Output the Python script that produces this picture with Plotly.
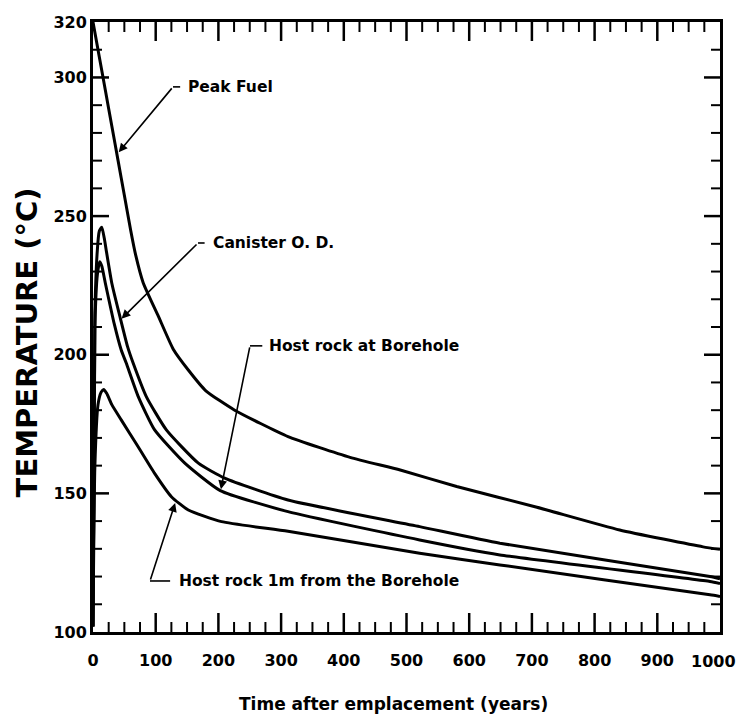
import plotly.graph_objects as go

# ---- data ----
peak_x = [0, 10, 20, 30, 40, 50, 60, 68, 80, 104, 128, 152, 180, 226, 311, 410, 490, 580, 708, 840, 973, 1000]
peak_y = [320, 307.5, 295, 282.5, 270, 257.5, 245, 236, 226, 214, 202, 194.5, 187, 180, 170.5, 163, 158.4, 152.5, 145, 136.8, 130.7, 129.8]

can_x = [0, 3, 7, 10, 14, 18, 21, 30, 43, 55, 64, 85, 117, 168, 210, 311, 521, 649, 984, 1000]
can_y = [102, 215, 238, 244.5, 246, 242, 237.8, 225.8, 213.7, 203, 197, 184.9, 172.9, 160.9, 155.5, 147.6, 138, 132, 120, 119.2]

bore_x = [0, 3, 7, 10.6, 14, 19.7, 34, 45, 53, 72, 98, 146, 203, 311, 521, 649, 984, 1000]
bore_y = [102, 210, 229, 233.5, 232, 225.8, 211, 201.7, 197, 185, 173, 161, 151, 143.4, 133.2, 127.8, 118.2, 117.5]

rock1m_x = [0, 3, 8, 13, 17, 22, 30, 45, 72, 98, 125, 152, 205, 311, 521, 649, 984, 1000]
rock1m_y = [102, 160, 182, 186.5, 187.5, 186, 182, 176.5, 166.8, 157.3, 148.8, 144, 139.8, 136.3, 128.4, 124.2, 113.4, 112.8]

x_tick_labels = [0, 100, 200, 300, 400, 500, 600, 700, 800, 900, 1000]
y_tick_labels = [100, 150, 200, 250, 300, 320]
x_major_ticks = list(range(100, 1000, 100))
x_minor_ticks = [v for v in range(25, 1000, 25) if v % 100]
y_major_ticks = list(range(150, 301, 50))
y_minor_ticks = [v for v in range(110, 320, 10) if v % 50]

# labels: (text, tip_x, tip_y, corner_x, corner_y, dash_end_x, text_x)
labels = [
    ("Peak Fuel", 41, 273, 127.6, 296.6, 139, 148),
    ("Canister O. D.", 45.5, 213, 167.5, 240.3, 178, 188),
    ("Host rock at Borehole", 204, 151.5, 250.4, 203.2, 270, 277),
    ("Host rock 1m from the Borehole", 131, 146.5, 90.9, 118.4, 123, 134),
]

FONT = "DejaVu Sans"
X_RANGE = [0, 1000]
Y_RANGE = [100, 320]
W, H = 739, 717
M = dict(l=93, r=19, t=22, b=85)
PX_PER_X = (W - M["l"] - M["r"]) / (X_RANGE[1] - X_RANGE[0])
PX_PER_Y = (H - M["t"] - M["b"]) / (Y_RANGE[1] - Y_RANGE[0])

fig = go.Figure()
for xs, ys in [(peak_x, peak_y), (can_x, can_y), (bore_x, bore_y), (rock1m_x, rock1m_y)]:
    fig.add_trace(go.Scatter(x=xs, y=ys, mode="lines",
                             line=dict(color="black", width=3, shape="spline", smoothing=0.5),
                             showlegend=False, hoverinfo="skip"))

# tick marks on all four sides, drawn as short segments on the data scales
def add_ticks(xticks, yticks, len_px, width):
    xs, ys = [], []
    dy = len_px / PX_PER_Y
    dx = len_px / PX_PER_X
    for v in xticks:
        xs += [v, v, None, v, v, None]
        ys += [Y_RANGE[0], Y_RANGE[0] + dy, None, Y_RANGE[1], Y_RANGE[1] - dy, None]
    for v in yticks:
        xs += [X_RANGE[0], X_RANGE[0] + dx, None, X_RANGE[1], X_RANGE[1] - dx, None]
        ys += [v, v, None, v, v, None]
    fig.add_trace(go.Scatter(x=xs, y=ys, mode="lines", connectgaps=False,
                             line=dict(color="black", width=width),
                             showlegend=False, hoverinfo="skip"))

add_ticks(x_major_ticks, [], 19, 2.5)
add_ticks(x_minor_ticks, [], 10, 2)
add_ticks([], y_major_ticks, 16, 2.5)
add_ticks([], y_minor_ticks, 9, 2)

shapes = []
annotations = []
for text, tx, ty, cx, cy, dx, lx in labels:
    annotations.append(dict(x=tx, y=ty, ax=cx, ay=cy, xref="x", yref="y", axref="x", ayref="y",
                            text="", showarrow=True, arrowhead=2, arrowsize=1.1, arrowwidth=1.6,
                            arrowcolor="black", standoff=0, startstandoff=0))
    shapes.append(dict(type="line", xref="x", yref="y", x0=cx, y0=cy, x1=dx, y1=cy,
                       line=dict(color="black", width=1.6)))
    annotations.append(dict(x=lx, y=cy, xref="x", yref="y", text=text, showarrow=False,
                            xanchor="left", yanchor="middle",
                            font=dict(family=FONT, size=15.5, color="black", weight="bold")))

tickfont = dict(family=FONT, size=16, color="black", weight="bold")

# last x label sits flush with the page edge, as in the reference
last_x = x_tick_labels[-1]
annotations.append(dict(x=last_x, y=0, xref="x", yref="paper", text=str(last_x), showarrow=False,
                        xanchor="right", yanchor="top", xshift=18, yshift=-18, font=tickfont))

annotations.append(dict(x=0.48, y=-0.118, xref="paper", yref="paper",
                        text="Time after emplacement (years)", showarrow=False,
                        xanchor="center", yanchor="middle",
                        font=dict(family=FONT, size=17, color="black", weight="bold")))
annotations.append(dict(x=-0.106, y=0.474, xref="paper", yref="paper",
                        text="TEMPERATURE (°C)", showarrow=False, textangle=-90,
                        xanchor="center", yanchor="middle",
                        font=dict(family=FONT, size=29, color="black", weight="bold")))

base = dict(showgrid=False, zeroline=False, automargin=False, fixedrange=True,
            showline=True, linecolor="black", linewidth=3, mirror=True, tickfont=tickfont)

fig.update_layout(
    width=W, height=H,
    margin=M,
    paper_bgcolor="white", plot_bgcolor="white",
    xaxis=dict(range=X_RANGE, tickmode="array", tickvals=x_tick_labels[:-1],
               ticks="outside", ticklen=12, tickcolor="rgba(0,0,0,0)", **base),
    yaxis=dict(range=Y_RANGE, tickmode="array", tickvals=y_tick_labels,
               ticks="", **base),
    shapes=shapes,
    annotations=annotations,
)

fig.write_html("out.html")
